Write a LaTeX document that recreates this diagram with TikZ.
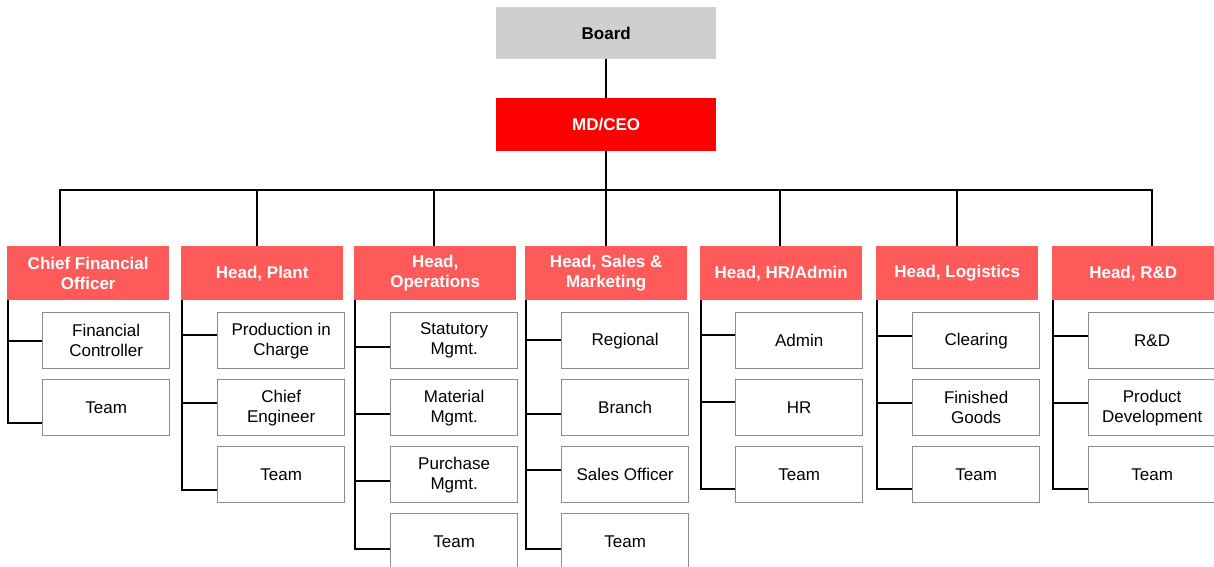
\documentclass[tikz,border=0pt]{standalone}
\usepackage{fontspec}
\setmainfont{Liberation Sans}
\definecolor{boardgray}{HTML}{D0CECE}
\definecolor{ceored}{HTML}{FF0000}
\definecolor{headred}{HTML}{FF5A5A}
\definecolor{subgray}{HTML}{8C8C8C}
\tikzset{
  txt/.style={font=\fontsize{17}{20}\selectfont, align=center, inner sep=0pt},
  topbox/.style={txt, font=\fontsize{17}{20}\selectfont\bfseries, anchor=north west,
    minimum width=220pt, minimum height=52pt},
  headbox/.style={txt, font=\fontsize{17}{20}\selectfont\bfseries, fill=headred, text=white,
    anchor=north west, minimum width=162pt, minimum height=54pt},
  subbox/.style={txt, draw=subgray, line width=1.3pt, fill=white, anchor=north west,
    minimum width=127pt, minimum height=56pt},
  link/.style={line width=1.8pt, black}
}
\begin{document}
\begin{tikzpicture}[x=1pt, y=-1pt]
\useasboundingbox (0,0) rectangle (1214,566);

% top of the hierarchy
\node[topbox, fill=boardgray, text=black] (board) at (496,7) {Board};
\node[topbox, fill=ceored, text=white, minimum height=53pt] (ceo) at (496,98) {MD/CEO};
\draw[link] (board) -- (ceo);

% horizontal bus feeding the department heads
\coordinate (bus1) at (60,190);
\coordinate (bus2) at (257,190);
\coordinate (bus3) at (434,190);
\coordinate (bus4) at (606,190);
\coordinate (bus5) at (780,190);
\coordinate (bus6) at (957,190);
\coordinate (bus7) at (1152,190);
\draw[link] (ceo.south) -- (ceo.south |- bus4);
\draw[link] ([xshift=-0.9pt]bus1) -- ([xshift=0.9pt]bus7);

% department heads
\node[headbox] (h1) at (7,246)    {Chief Financial\\Officer};
\node[headbox] (h2) at (181,246)  {Head, Plant};
\node[headbox] (h3) at (354,246)  {Head,\\Operations};
\node[headbox] (h4) at (525,246)  {Head, Sales \&\\Marketing};
\node[headbox] (h5) at (700,246)  {Head, HR/Admin};
\node[headbox] (h6) at (876,246)  {Head, Logistics};
\node[headbox] (h7) at (1052,246) {Head, R\&D};
\foreach \i in {1,...,7} {
  \draw[link] (bus\i) -- (bus\i |- h\i.north);
}

% CFO
\node[subbox] (s11) at (42,312)  {Financial\\Controller};
\node[subbox] (s12) at (42,379)  {Team};
% Plant
\node[subbox] (s21) at (217,312) {Production in\\Charge};
\node[subbox] (s22) at (217,379) {Chief\\Engineer};
\node[subbox] (s23) at (217,446) {Team};
% Operations
\node[subbox] (s31) at (390,312) {Statutory\\Mgmt.};
\node[subbox] (s32) at (390,379) {Material\\Mgmt.};
\node[subbox] (s33) at (390,446) {Purchase\\Mgmt.};
\node[subbox] (s34) at (390,513) {Team};
% Sales & Marketing
\node[subbox] (s41) at (561,312) {Regional};
\node[subbox] (s42) at (561,379) {Branch};
\node[subbox] (s43) at (561,446) {Sales Officer};
\node[subbox] (s44) at (561,513) {Team};
% HR/Admin
\node[subbox] (s51) at (735,312) {Admin};
\node[subbox] (s52) at (735,379) {HR};
\node[subbox] (s53) at (735,446) {Team};
% Logistics
\node[subbox] (s61) at (912,312) {Clearing};
\node[subbox] (s62) at (912,379) {Finished\\Goods};
\node[subbox] (s63) at (912,446) {Team};
% R&D
\node[subbox] (s71) at (1088,312) {R\&D};
\node[subbox] (s72) at (1088,379) {Product\\Development};
\node[subbox] (s73) at (1088,446) {Team};

% spines from each head down to its units; the number after the unit
% is how far (downwards) its tick sits from the unit's middle
\foreach \h/\k/\d in {1/1/0, 1/2/15,
                      2/1/-6, 2/2/-5, 2/3/15,
                      3/1/6, 3/2/6, 3/3/6, 3/4/7,
                      4/1/-1, 4/2/6, 4/3/-5, 4/4/7,
                      5/1/-6, 5/2/-6, 5/3/14,
                      6/1/-5, 6/2/-5, 6/3/14,
                      7/1/-5, 7/2/-5, 7/3/14} {
  \draw[link] ([xshift=1.2pt]h\h.south west) |- ([yshift=-\d pt]s\h\k.west);
}
\end{tikzpicture}
\end{document}
